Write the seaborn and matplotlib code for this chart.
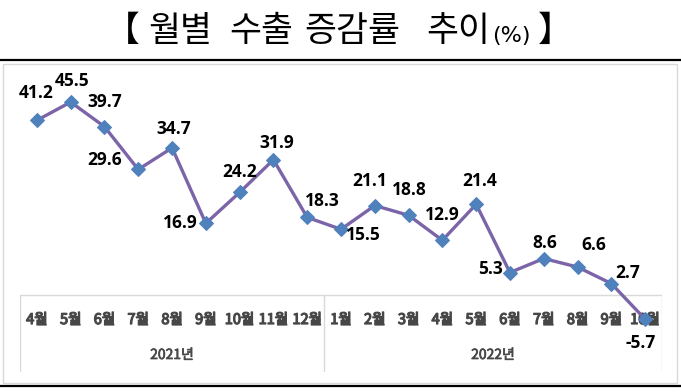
import matplotlib
matplotlib.use("Agg")
import matplotlib.pyplot as plt
import matplotlib.patheffects as pe
import seaborn as sns
import pandas as pd
from matplotlib.patches import Rectangle
from matplotlib.lines import Line2D

months = ["4월", "5월", "6월", "7월", "8월", "9월", "10월", "11월", "12월",
          "1월", "2월", "3월", "4월", "5월", "6월", "7월", "8월", "9월", "10월"]
values = [41.2, 45.5, 39.7, 29.6, 34.7, 16.9, 24.2, 31.9, 18.3,
          15.5, 21.1, 18.8, 12.9, 21.4, 5.3, 8.6, 6.6, 2.7, -5.7]
years = ["2021년", "2022년"]
year_counts = [9, 10]
title_words = ["【", "월별", "수출", "증감률", "추이", "(%)", "】"]
title_centers = [122, 180, 261, 352, 458, 511, 555]

# label offsets in pixels (dx, dy)
offsets = [(-1, 27), (1, 21), (0, 25), (-34, 9), (2, 19), (-26, 0), (0, 20), (3, 17),
           (15, 16), (22, -6), (-5, 25), (1, 25), (0, 25), (3, 23), (-19, 4), (1, 16),
           (16, 22), (16, 11), (-4, -24)]

sns.set_theme(style="white")
plt.rcParams['font.family'] = ['Noto Sans CJK KR', 'DejaVu Sans']

W, H = 681, 392
fig = plt.figure(figsize=(W / 100, H / 100), dpi=100)

def fx(px):
    return px / W

def fy(py):
    return 1 - py / H

# outer frame lines
fig.add_artist(Line2D([0, 1], [fy(60), fy(60)], color="black", lw=1.6))
fig.add_artist(Line2D([0, 1], [fy(386), fy(386)], color="black", lw=1.6))
fig.add_artist(Rectangle((fx(3), fy(383)), fx(674), (383 - 64) / H, fill=False,
                         edgecolor="#d9d9d9", lw=1.0))

# title
for w, c in zip(title_words, title_centers):
    if w == "(%)":
        fig.text(fx(c), fy(36), w, fontsize=16, ha="center", va="center", color="black",
                 family=["DejaVu Sans"])
    else:
        fig.text(fx(c), fy(31), w, fontsize=25, ha="center", va="center", color="black")

# axes
ax_top, ax_bot = 70, 372
ax = fig.add_axes([fx(20), fy(ax_bot), (662 - 20) / W, (ax_bot - ax_top) / H])
ppu = 4.24
zero_px = 295
ax.set_ylim(-(ax_bot - zero_px) / ppu, (zero_px - ax_top) / ppu)
ax.set_xlim(-0.5, 18.5)
for s in ax.spines.values():
    s.set_visible(False)
ax.patch.set_alpha(0)
ax.set_yticks([])

x = list(range(len(values)))
df = pd.DataFrame({"x": x, "v": values})

grid_c = "#d9d9d9"
ymin = ax.get_ylim()[0]
ax.plot([-0.5, 18.5], [0, 0], color=grid_c, lw=1.0, zorder=1)
cum = -0.5
bounds = [cum]
for c in year_counts:
    cum += c
    bounds.append(cum)
for b in bounds:
    ax.plot([b, b], [ymin, 0], color=grid_c, lw=1.0, zorder=1)

ax.set_xticks(x)
ax.set_xticklabels([])
ax.tick_params(axis="x", length=0)
lab_c = "#474747"
for xi, m in zip(x, months):
    ax.text(xi, -(320 - zero_px) / ppu, m, ha="center", va="center", fontsize=10.5,
            color=lab_c, zorder=2,
            path_effects=[pe.withStroke(linewidth=0.9, foreground=lab_c)])

# year labels
for i, yl in enumerate(years):
    cx = (bounds[i] + bounds[i + 1]) / 2
    ax.text(cx, -(355 - zero_px) / ppu, yl, ha="center", va="center",
            fontsize=10, color=lab_c,
            path_effects=[pe.withStroke(linewidth=0.5, foreground=lab_c)])

sns.lineplot(data=df, x="x", y="v", ax=ax, color="#7b64a8", lw=2.4,
             marker="D", markersize=7, markerfacecolor="#4f81bd",
             markeredgecolor="#4f81bd", zorder=3)
ax.set_xlabel("")
ax.set_ylabel("")

for xi, v, (dx, dy) in zip(x, values, offsets):
    ax.annotate(f"{v:.1f}", (xi, v), xytext=(dx, dy), textcoords="offset pixels",
                ha="center", va="center", fontsize=12.5, fontweight="bold",
                color="black", family=["Open Sans", "DejaVu Sans"])

fig.savefig("out.png", dpi=100)
